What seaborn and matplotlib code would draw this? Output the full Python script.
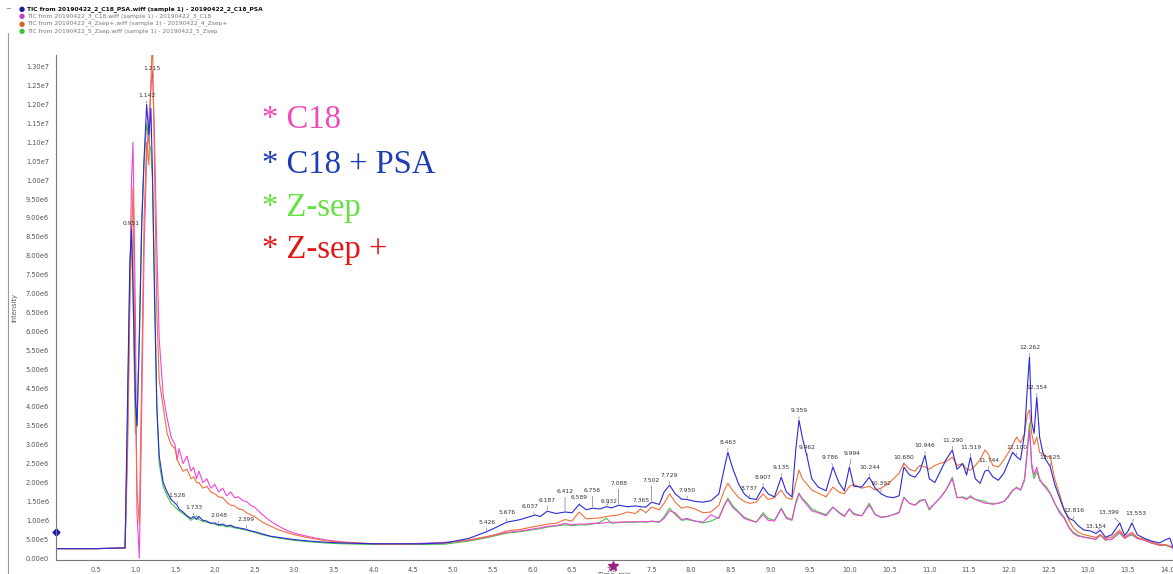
import matplotlib.pyplot as plt
import matplotlib.ticker as mticker
from matplotlib.lines import Line2D
import numpy as np
import pandas as pd
import seaborn as sns

plt.switch_backend("Agg")

# retention time (min), shared by the four TIC traces
time_min = [
    0.00, 0.50, 0.87, 0.90, 0.93, 0.951, 0.97, 1.00, 1.02, 1.05,
    1.08, 1.11, 1.142, 1.17, 1.195, 1.215, 1.24, 1.27, 1.30, 1.35,
    1.40, 1.45,
    1.50, 1.526, 1.55, 1.60, 1.65, 1.70, 1.733, 1.77, 1.80, 1.85,
    1.90, 1.95, 2.00, 2.048, 2.10, 2.15, 2.20, 2.25, 2.30, 2.35,
    2.399, 2.45, 2.50, 2.60, 2.70, 2.80, 2.90, 3.00, 3.20, 3.40,
    3.60, 3.80, 4.00, 4.30, 4.60, 4.90,
    5.20, 5.426, 5.55, 5.676, 5.85, 6.037, 6.10, 6.187, 6.30, 6.412,
    6.50, 6.589, 6.68, 6.756, 6.85, 6.932, 7.00, 7.088, 7.20, 7.30,
    7.365, 7.43, 7.502, 7.60, 7.66, 7.729, 7.80, 7.88, 7.95, 8.05,
    8.15, 8.25, 8.35, 8.42, 8.463, 8.52, 8.60, 8.67, 8.737, 8.82,
    8.907, 8.97, 9.05, 9.135, 9.20, 9.27, 9.32, 9.359, 9.40, 9.462,
    9.52, 9.60, 9.70, 9.786, 9.86, 9.93, 9.994, 10.05, 10.15, 10.244,
    10.32, 10.392, 10.47,
    10.55, 10.62, 10.68, 10.75, 10.82, 10.88, 10.946, 11.00, 11.07, 11.14,
    11.21, 11.29, 11.35, 11.42, 11.47, 11.519, 11.58, 11.64, 11.70, 11.744,
    11.80, 11.87, 11.94, 12.00, 12.05, 12.10, 12.15, 12.20, 12.235, 12.262,
    12.29, 12.32, 12.354, 12.39, 12.43, 12.47,
    12.525, 12.58, 12.64, 12.70, 12.76, 12.816, 12.88, 12.95, 13.03, 13.10,
    13.154, 13.22, 13.30, 13.399, 13.46, 13.50, 13.553, 13.62, 13.70, 13.80,
    13.90, 13.97, 14.03, 14.07,
]

# intensities, x 1e6 counts
tic_c18_psa = [
    0.25, 0.25, 0.27, 4.0, 7.8, 8.7, 7.2, 4.2, 3.5, 5.8,
    8.8, 10.6, 12.0, 11.2, 11.9, 10.2, 7.0, 4.0, 2.7, 2.0,
    1.75, 1.55,
    1.45, 1.40, 1.30, 1.22, 1.12, 1.05, 1.10, 1.02, 1.10, 1.00,
    0.98, 0.92, 0.93, 0.88, 0.90, 0.85, 0.87, 0.82, 0.80, 0.78,
    0.76, 0.72, 0.70, 0.64, 0.58, 0.55, 0.52, 0.49, 0.45, 0.42,
    0.40, 0.39, 0.38, 0.38, 0.38, 0.40,
    0.52, 0.70, 0.82, 0.95, 1.02, 1.14, 1.10, 1.24, 1.18, 1.22,
    1.20, 1.42, 1.28, 1.32, 1.30, 1.36, 1.33, 1.40, 1.36, 1.38,
    1.36, 1.35, 1.48, 1.42, 1.75, 1.93, 1.70, 1.56, 1.55, 1.50,
    1.48, 1.52, 1.70, 2.40, 2.80, 2.40, 1.95, 1.70, 1.58, 1.55,
    1.88, 1.70, 1.62, 2.14, 1.75, 1.62, 2.90, 3.65, 3.20, 2.67,
    2.10, 1.88, 1.78, 2.41, 2.00, 1.78, 2.41, 1.90, 1.88, 2.14,
    1.85, 1.70, 1.62,
    1.60, 1.65, 2.41, 2.20, 2.14, 2.30, 2.72, 2.10, 2.00, 2.30,
    2.60, 2.86, 2.35, 2.50, 2.20, 2.67, 2.10, 1.98, 2.30, 2.33,
    2.15, 2.06, 2.25, 2.55, 2.80, 2.68, 2.60, 3.30, 4.50, 5.32,
    3.60, 3.30, 4.26, 3.20, 2.80, 2.60,
    2.41, 1.95, 1.60, 1.27, 1.05, 1.00, 0.85, 0.74, 0.72, 0.65,
    0.74, 0.55, 0.62, 0.93, 0.60, 0.70, 0.93, 0.62, 0.53, 0.45,
    0.40, 0.48, 0.53, 0.29,
]

tic_c18 = [
    0.25, 0.25, 0.27, 3.0, 7.2, 10.0, 11.0, 6.5, 1.2, 0.0,
    4.0, 8.2, 10.6, 11.6, 12.4, 12.9, 11.2, 8.2, 5.8, 4.3,
    3.7, 3.2,
    3.0, 2.6, 2.9, 2.5, 2.7, 2.3, 2.4, 2.1, 2.3, 2.0,
    2.1, 1.85, 1.95, 1.75, 1.85, 1.65, 1.75, 1.60, 1.62, 1.52,
    1.50, 1.40, 1.35, 1.15, 0.98, 0.85, 0.74, 0.66, 0.56, 0.48,
    0.43, 0.40, 0.38, 0.38, 0.39, 0.42,
    0.47, 0.56, 0.62, 0.68, 0.72, 0.78, 0.80, 0.84, 0.86, 0.92,
    0.88, 0.90, 0.90, 0.92, 0.92, 0.94, 0.95, 0.95, 0.96, 0.96,
    0.97, 0.96, 0.98, 0.96, 1.05, 1.25, 1.20, 1.02, 1.05, 0.98,
    0.95, 1.15, 1.05, 1.40, 1.55, 1.35, 1.20, 1.05, 1.00, 0.95,
    1.15, 1.00, 0.98, 1.30, 1.05, 1.00, 1.45, 1.70, 1.55, 1.40,
    1.25, 1.20, 1.12, 1.35, 1.20, 1.10, 1.30, 1.15, 1.12, 1.40,
    1.15, 1.08, 1.10,
    1.15, 1.20, 1.60, 1.45, 1.40, 1.50, 1.55, 1.30, 1.45, 1.60,
    1.80, 2.10, 1.60, 1.60, 1.55, 1.65, 1.55, 1.50, 1.45, 1.45,
    1.42, 1.45, 1.50, 1.65, 1.80, 1.85, 1.80, 2.10, 2.80, 3.40,
    2.50, 2.20, 2.40, 2.10, 1.95, 1.85,
    1.70, 1.45, 1.20, 1.05, 0.80, 0.65, 0.58, 0.55, 0.52, 0.50,
    0.62, 0.48, 0.50, 0.70, 0.52, 0.58, 0.65, 0.52, 0.48, 0.40,
    0.34, 0.35, 0.32, 0.26,
]

tic_zsep_plus = [
    0.25, 0.25, 0.27, 2.6, 6.6, 8.6, 9.8, 4.2, 1.8, 0.9,
    5.0, 9.0, 11.0, 10.4, 12.6, 13.8, 10.4, 6.5, 4.7, 4.0,
    3.3, 3.0,
    2.9, 2.6, 2.5, 2.3, 2.35, 2.1, 2.15, 2.0, 2.0, 1.85,
    1.9, 1.75, 1.70, 1.62, 1.60, 1.48, 1.40, 1.38, 1.30, 1.28,
    1.20, 1.15, 1.10, 0.95, 0.85, 0.75, 0.68, 0.62, 0.53, 0.46,
    0.42, 0.40, 0.38, 0.37, 0.38, 0.40,
    0.48, 0.57, 0.63, 0.72, 0.76, 0.84, 0.86, 0.90, 0.92, 1.02,
    0.98, 1.22, 1.04, 1.05, 1.06, 1.10, 1.12, 1.14, 1.22, 1.18,
    1.30, 1.20, 1.35, 1.28, 1.45, 1.70, 1.48, 1.32, 1.36, 1.30,
    1.20, 1.22, 1.40, 1.80, 1.98, 1.80, 1.60, 1.50, 1.45, 1.48,
    1.70, 1.55, 1.60, 1.80, 1.60, 1.55, 2.00, 2.33, 2.10, 1.95,
    1.80, 1.72, 1.62, 1.88, 1.75, 1.70, 1.90, 1.95, 1.85, 1.90,
    1.80, 1.85, 1.95,
    2.10, 2.25, 2.51, 2.35, 2.30, 2.45, 2.41, 2.35, 2.45, 2.51,
    2.55, 2.67, 2.45, 2.50, 2.35, 2.33, 2.45, 2.60, 2.86, 2.75,
    2.45, 2.41, 2.60, 2.80, 3.00, 3.20, 3.05, 3.30, 3.80, 3.92,
    3.30, 3.00, 3.20, 2.80, 2.75, 2.70,
    2.67, 2.10, 1.70, 1.27, 1.00, 0.80, 0.68, 0.62, 0.58, 0.55,
    0.62, 0.52, 0.56, 0.74, 0.55, 0.62, 0.68, 0.55, 0.50, 0.42,
    0.36, 0.36, 0.32, 0.29,
]

tic_zsep = [
    0.25, 0.25, 0.27, 3.6, 7.6, 8.8, 7.0, 3.3, 3.5, 6.0,
    9.0, 10.5, 11.5, 11.0, 10.8, 10.0, 7.4, 4.0, 2.5, 1.9,
    1.65, 1.45,
    1.35, 1.30, 1.25, 1.18, 1.10, 1.00, 1.05, 1.12, 1.02, 0.97,
    0.95, 0.92, 0.90, 0.86, 0.86, 0.83, 0.83, 0.80, 0.78, 0.76,
    0.74, 0.71, 0.68, 0.62, 0.57, 0.53, 0.50, 0.47, 0.43, 0.40,
    0.38, 0.37, 0.36, 0.36, 0.36, 0.37,
    0.45, 0.54, 0.60, 0.66, 0.70, 0.76, 0.78, 0.82, 0.85, 0.88,
    0.86, 0.88, 0.88, 0.90, 0.95, 1.05, 0.92, 0.94, 0.95, 0.95,
    0.96, 0.95, 0.97, 0.95, 1.10, 1.32, 1.15, 1.00, 1.02, 0.98,
    0.93, 0.98, 1.08, 1.42, 1.58, 1.40, 1.22, 1.08, 1.02, 0.95,
    1.20, 1.05, 1.00, 1.32, 1.08, 1.02, 1.50, 1.72, 1.58, 1.45,
    1.30, 1.22, 1.15, 1.35, 1.22, 1.12, 1.30, 1.18, 1.12, 1.45,
    1.15, 1.08, 1.10,
    1.15, 1.22, 1.61, 1.45, 1.40, 1.53, 1.55, 1.27, 1.45, 1.60,
    1.80, 2.14, 1.60, 1.62, 1.58, 1.61, 1.55, 1.53, 1.50, 1.45,
    1.45, 1.45, 1.50, 1.62, 1.78, 1.88, 1.80, 2.05, 2.90, 3.57,
    2.40, 2.10, 2.30, 2.05, 1.98, 1.90,
    1.72, 1.45, 1.25, 1.08, 0.82, 0.68, 0.60, 0.56, 0.53, 0.50,
    0.60, 0.48, 0.50, 0.66, 0.52, 0.58, 0.61, 0.52, 0.48, 0.40,
    0.34, 0.34, 0.30, 0.26,
]

peak_labels = [
    "0.951", "1.142", "1.215", "1.526", "1.733", "2.048", "2.399",
    "5.426", "5.676", "6.037", "6.187", "6.412", "6.589", "6.756", "6.932",
    "7.088", "7.365", "7.502", "7.729", "7.950", "8.463", "8.737", "8.907",
    "9.135", "9.359", "9.462", "9.786", "9.994", "10.244", "10.392", "10.680",
    "10.946", "11.290", "11.519", "11.744", "12.100", "12.262", "12.354",
    "12.525", "12.816", "13.154", "13.399", "13.553",
]

# label nudges (points) so that crowded labels stagger like the software does
label_nudge = {
    "0.951": (0, 2), "6.037": (-4, 4), "6.187": (0, 6), "6.412": (0, 13),
    "6.589": (0, 3), "6.756": (0, 11), "6.932": (2, 2), "7.088": (0, 14),
    "7.365": (0, 3), "7.502": (0, 14), "9.786": (-2, 5), "9.994": (2, 8),
    "10.392": (0, 6), "13.154": (-3, 1), "13.399": (-8, 6), "13.553": (3, 5),
}

sample_names = ["C18 + PSA", "C18", "Z-sep +", "Z-sep"]
header_texts = [
    "TIC from 20190422_2_C18_PSA.wiff (sample 1) - 20190422_2_C18_PSA",
    "TIC from 20190422_3_C18.wiff (sample 1) - 20190422_3_C18",
    "TIC from 20190422_4_Zsep+.wiff (sample 1) - 20190422_4_Zsep+",
    "TIC from 20190422_5_Zsep.wiff (sample 1) - 20190422_5_Zsep",
]

line_colors = {"C18 + PSA": "#2a2ad8", "C18": "#f046d8",
               "Z-sep +": "#f0703a", "Z-sep": "#44c444"}
dot_colors = ["#1a1aa8", "#c040c0", "#e06020", "#40c040"]
text_colors = {"C18": "#f04ab8", "C18 + PSA": "#1e3cb4",
               "Z-sep": "#66e044", "Z-sep +": "#e01818"}

assert all(len(s) == len(time_min) for s in
           [tic_c18_psa, tic_c18, tic_zsep_plus, tic_zsep])

frames = []
for name, vals in zip(sample_names, [tic_c18_psa, tic_c18, tic_zsep_plus, tic_zsep]):
    frames.append(pd.DataFrame({"time": time_min,
                                "intensity": np.array(vals) * 1e6,
                                "sample": name}))
df = pd.concat(frames, ignore_index=True)

sns.set_style("white")
plt.rcParams["font.family"] = ["DejaVu Sans"]

W, H = 1173, 574
fig = plt.figure(figsize=(W / 100, H / 100), dpi=100)
ax = fig.add_axes([56 / W, 1 - 560 / H, 1 - 56 / W, (560 - 55) / H])

sns.lineplot(data=df, x="time", y="intensity", hue="sample",
             hue_order=["Z-sep", "C18", "Z-sep +", "C18 + PSA"],
             palette=line_colors, estimator=None, linewidth=0.8,
             legend=False, ax=ax)

ax.set_xlim(0, 14.07)
ax.set_ylim(-0.05e6, 13.31e6)

ax.xaxis.set_major_locator(mticker.MultipleLocator(0.5))
ax.xaxis.set_minor_locator(mticker.MultipleLocator(0.1))
ax.xaxis.set_major_formatter(
    mticker.FuncFormatter(lambda v, p: "" if v < 0.25 else f"{v:.1f}"))
ax.yaxis.set_major_locator(mticker.MultipleLocator(0.5e6))
ax.yaxis.set_minor_locator(mticker.MultipleLocator(0.1e6))


def sci_fmt(v, pos):
    if abs(v) < 1:
        return "0.00e0"
    exp = int(np.floor(np.log10(abs(v))))
    return f"{v / 10 ** exp:.2f}e{exp}"


ax.yaxis.set_major_formatter(mticker.FuncFormatter(sci_fmt))
ax.tick_params(which="major", labelsize=4.8, labelcolor="#555555",
               color="#777777", length=3, width=0.6, pad=2)
ax.tick_params(which="minor", color="#888888", length=1.5, width=0.5)

for side in ["top", "right"]:
    ax.spines[side].set_visible(False)
for side in ["left", "bottom"]:
    ax.spines[side].set_color("#777777")
    ax.spines[side].set_linewidth(0.8)

ax.set_xlabel("Time, min", fontsize=4.8, color="#555555")
ax.set_ylabel("Intensity", fontsize=4.8, color="#555555")
ax.xaxis.set_label_coords(0.5, -0.024)
ax.yaxis.set_label_coords(-0.035, 0.5)

# peak retention-time labels
t_arr = np.array(time_min)
blue = np.array(tic_c18_psa) * 1e6
orange = np.array(tic_zsep_plus) * 1e6
for lab in peak_labels:
    t = float(lab)
    y = np.interp(t, t_arr, blue)
    if t < 1.3:
        y = min(max(y, np.interp(t, t_arr, orange)), 12.7e6)
    dx, dy = label_nudge.get(lab, (0, 5))
    ax.annotate(lab, xy=(t, y), xytext=(dx, dy), textcoords="offset points",
                ha="center", va="bottom", fontsize=4.3, color="#333333",
                arrowprops=dict(arrowstyle="-", lw=0.4, color="#555555",
                                shrinkA=0, shrinkB=1))

# small instrument markers
ax.plot([0.0], [0.69e6], marker="D", markersize=3.5, color="#1a1aa8",
        clip_on=False)
ax.plot([7.02], [-0.2e6], marker="*", markersize=7, color="#a0208a",
        clip_on=False)

# big sample annotations
ys = [128, 173, 216, 258]
for name, yb in zip(["C18", "C18 + PSA", "Z-sep", "Z-sep +"], ys):
    fig.text(262 / W, 1 - yb / H, "* " + name, fontsize=23.5,
             family="Liberation Serif", color=text_colors[name], va="baseline")

# header listing the traces
for i, (txt, col) in enumerate(zip(header_texts, dot_colors)):
    y = 1 - (9 + 7.3 * i) / H
    fig.text(19 / W, y, "\u25cf", fontsize=5, color=col, va="center")
    fig.text(27 / W, y, txt, fontsize=4.3, va="center",
             color="#111111" if i == 0 else "#777777",
             fontweight="bold" if i == 0 else "normal")
fig.text(5 / W, 1 - 9 / H, "\u2212", fontsize=5, color="#777777", va="center")

fig.add_artist(Line2D([7.5 / W, 7.5 / W], [0, 1 - 33 / H],
                      color="#999999", lw=0.8))

fig.savefig("out.png", dpi=100)
